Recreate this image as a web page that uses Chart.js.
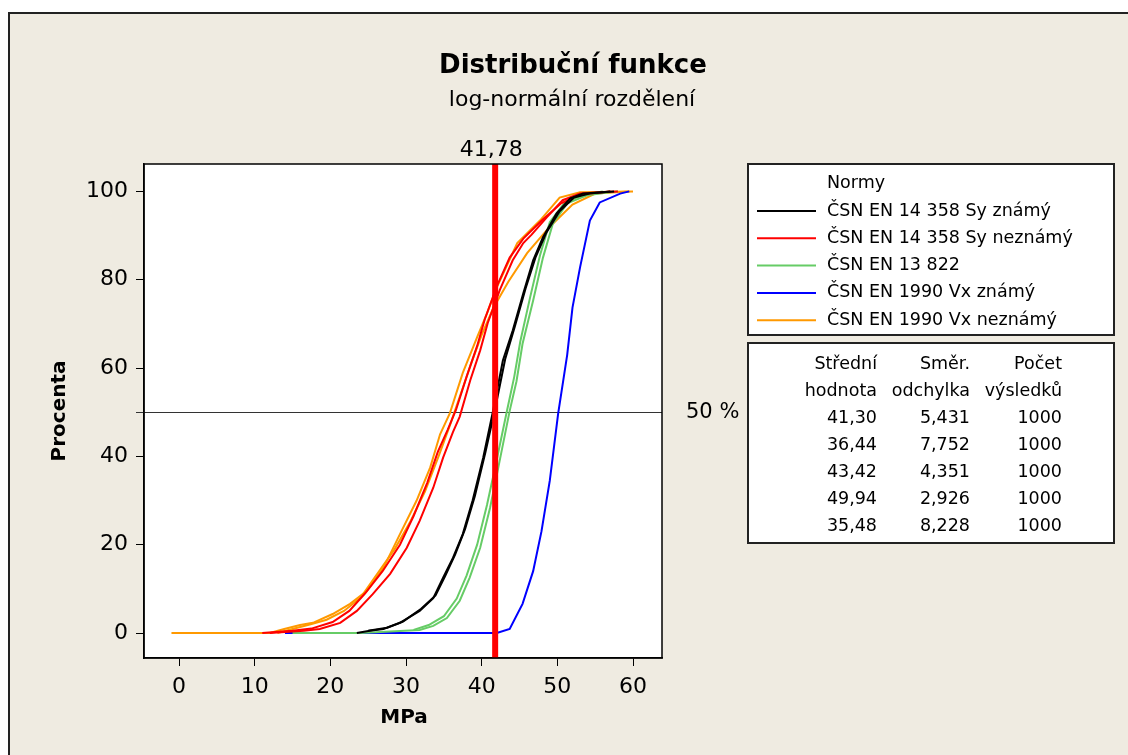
<!DOCTYPE html>
<html>
<head>
<meta charset="utf-8">
<script src="https://cdn.jsdelivr.net/npm/chart.js@4.4.0/dist/chart.umd.min.js"></script>
<style>
    html, body { margin: 0; padding: 0; background: #fff; }
    #wrap { width: 1128px; height: 755px; }
</style>
</head>
<body>
<div id="wrap"><canvas id="cdfChart" width="1128" height="755"></canvas></div>
<script>
// tick labels
const xTicks = [0, 10, 20, 30, 40, 50, 60];
const yTicks = [0, 20, 40, 60, 80, 100];

// series (legend order)
const seriesNames = [
    'ČSN EN 14 358 Sy známý',
    'ČSN EN 14 358 Sy neznámý',
    'ČSN EN 13 822',
    'ČSN EN 1990 Vx známý',
    'ČSN EN 1990 Vx neznámý'
];
const seriesColors = ['#000000', '#FF0000', '#66CC66', '#0000FF', '#FF9900'];

// stats table
const means = [41.30, 36.44, 43.42, 49.94, 35.48];
const stdDevs = [5.431, 7.752, 4.351, 2.926, 8.228];
const counts = [1000, 1000, 1000, 1000, 1000];

const refValue = 41.78;   // red vertical line
const refPercent = 50;    // horizontal line

const blackA = [[23.5,0],[25.2,0.5],[27,0.9],[29.2,2.3],[31.8,5],[33.6,7.9],[34.9,12.5],[36.2,17],[37.5,22.4],[38.8,30],[40.2,39.7],[41.5,50.3],[42.8,61.7],[44.1,68.5],[45.5,76.9],[46.8,84.4],[48.1,89.6],[49.9,95],[51.7,98.4],[53.4,99.5],[56,99.8],[57.5,100]];
const blackB = [[25,0.5],[27.5,1.2],[29.6,2.6],[32,5.5],[33.9,8.5],[35.2,13],[36.5,17.8],[37.8,23.5],[39.1,31],[40.5,41],[41.8,51],[43.1,62],[44.4,69.5],[45.8,78],[47.1,85],[48.5,90.5],[50.3,95.5],[52.2,98.6],[54.5,99.6],[57,100]];
const redA = [[12,0],[16.5,0.5],[18.6,0.9],[21.3,2.3],[23.5,5],[25.6,8.8],[27.9,13.4],[30.1,19.3],[31.8,25.4],[33.6,32.9],[34.9,39.7],[36.2,45.5],[37.1,49],[38.5,57.3],[39.8,64],[40.8,70.2],[42.4,77.7],[44.1,84.4],[45.5,88.3],[46.6,90.2],[48.6,94.1],[50.7,98],[53,99.5],[55.6,99.8],[58,100]];
const redB = [[11,0],[15,0.5],[17.5,1],[20.3,2.5],[22.5,5],[24.6,9],[26.9,14],[29.2,20],[31,26.5],[32.8,34],[34.2,41],[35.5,46],[36.6,50.5],[38,58],[39.4,65],[40.4,71],[42,78.5],[43.7,85],[45.5,89.3],[48,93.5],[50.5,97.3],[53,99.3],[57,100]];
const greenA = [[15,0],[24,0],[31.8,0.7],[33.6,1.6],[35.4,3.4],[37.1,7.3],[38.4,12.5],[39.8,19.3],[41.1,28.3],[42.2,37.5],[43.7,50.3],[44.6,57],[45.4,65.5],[46.8,75.3],[48.1,85],[49.4,92.7],[51.3,97.3],[53.9,99.1],[55.6,99.5],[58,100]];
const greenB = [[31,0.7],[33,1.8],[35,3.8],[36.7,7.8],[38,13],[39.4,20],[40.7,29],[41.9,38.5],[43.3,50],[44.3,58],[45.1,66],[46.4,76],[47.7,85.5],[49,93],[51,97.5],[53.5,99.2],[56,100]];
const blueA = [[14,0],[42,0],[43.7,0.9],[45.4,6.6],[46.8,14],[47.9,23],[49,34.5],[50.1,49.6],[51.3,63],[52,73.7],[53,82.8],[54.3,93.4],[55.6,97.5],[58.3,99.5],[59.5,100]];
const orangeA = [[-1,0],[12,0],[13.9,0.9],[16,1.8],[17.7,2.3],[20.3,4.3],[22.6,6.6],[24.8,9.5],[27,14.7],[29.2,22.4],[31.4,30],[33.2,37.5],[34.5,45],[35.8,49.8],[37.5,58.9],[39.4,67],[40.7,72.4],[42,78.3],[44.7,88.3],[47.7,93.4],[50.3,98.6],[53,99.8],[60,100]];
const orangeB = [[13,0],[15,0.9],[17.4,2],[19.5,3],[21.8,5],[24,8],[26.2,13.4],[28.5,19],[30.5,25],[32.5,32],[34.3,40],[35.8,47],[37.2,54],[38.6,61],[40,67.5],[41.5,73.5],[43.5,79.5],[46,86],[49,92],[52,97],[55,99.5],[59.5,100]];

const seriesRuns = [[blackA, blackB], [redA, redB], [greenA, greenB], [blueA], [orangeA, orangeB]];

const FONT = "'DejaVu Sans', Verdana, sans-serif";
Chart.defaults.font.family = FONT;
Chart.defaults.color = '#000';

function czNum(v, d){
    return v.toFixed(d).replace('.', ',');
}

var datasets = [];
seriesRuns.forEach(function(runs, i){
    runs.forEach(function(run){
        datasets.push({
            label: seriesNames[i],
            data: run.map(p => ({x: p[0], y: p[1]})),
            borderColor: seriesColors[i],
            borderWidth: 2,
            pointRadius: 0,
            showLine: true,
            tension: 0
        });
    });
});

const decorPlugin = {
    id: 'decor',
    beforeDraw(chart){
        const ctx = chart.ctx;
        const a = chart.chartArea;
        ctx.save();
        ctx.fillStyle = '#fff';
        ctx.fillRect(0, 0, chart.width, chart.height);
        ctx.fillStyle = '#EFEBE1';
        ctx.fillRect(8, 12, chart.width - 8, chart.height - 12);
        ctx.strokeStyle = '#222';
        ctx.lineWidth = 2;
        ctx.beginPath();
        ctx.moveTo(9, chart.height);
        ctx.lineTo(9, 13);
        ctx.lineTo(chart.width, 13);
        ctx.stroke();
        ctx.fillStyle = '#fff';
        ctx.fillRect(a.left, a.top, a.right - a.left, a.bottom - a.top);
        ctx.restore();
    },
    beforeDatasetsDraw(chart){
        const ctx = chart.ctx;
        const a = chart.chartArea;
        const py = Math.round(chart.scales.y.getPixelForValue(refPercent)) + 0.5;
        ctx.save();
        ctx.strokeStyle = '#333';
        ctx.lineWidth = 1;
        ctx.beginPath();
        ctx.moveTo(a.left - 8, py);
        ctx.lineTo(a.right, py);
        ctx.stroke();
        ctx.fillStyle = '#000';
        ctx.font = '21px ' + FONT;
        ctx.textAlign = 'left';
        ctx.textBaseline = 'middle';
        ctx.fillText(refPercent + ' %', a.right + 24, py);
        ctx.restore();
    },
    afterDatasetsDraw(chart){
        const ctx = chart.ctx;
        const a = chart.chartArea;
        const px = chart.scales.x.getPixelForValue(refValue);
        ctx.save();
        // red reference line
        ctx.strokeStyle = '#FF0000';
        ctx.lineWidth = 6;
        ctx.beginPath();
        ctx.moveTo(px, a.top);
        ctx.lineTo(px, a.bottom);
        ctx.stroke();
        ctx.fillStyle = '#000';
        ctx.font = '22px ' + FONT;
        ctx.textAlign = 'center';
        ctx.textBaseline = 'middle';
        ctx.fillText(czNum(refValue, 2), px - 4, a.top - 14);

        // plot frame
        ctx.strokeStyle = '#000';
        ctx.lineWidth = 1.5;
        ctx.strokeRect(a.left, a.top, a.right - a.left, a.bottom - a.top);

        // titles
        ctx.font = 'bold 26px ' + FONT;
        ctx.fillText('Distribuční funkce', 573, 66);
        ctx.font = '22px ' + FONT;
        ctx.fillText('log-normální rozdělení', 572, 100);

        // axis titles
        ctx.font = 'bold 20px ' + FONT;
        ctx.fillText('MPa', 404, 718);
        ctx.save();
        ctx.translate(60, 411);
        ctx.rotate(-Math.PI / 2);
        ctx.fillText('Procenta', 0, 0);
        ctx.restore();

        // legend box
        ctx.fillStyle = '#fff';
        ctx.fillRect(748, 164, 366, 171);
        ctx.fillRect(748, 343, 366, 200);
        ctx.lineWidth = 2;
        ctx.strokeStyle = '#222';
        ctx.strokeRect(748, 164, 366, 171);
        ctx.fillStyle = '#000';
        ctx.font = '17.5px ' + FONT;
        ctx.textAlign = 'left';
        ctx.fillText('Normy', 827, 183);
        seriesNames.forEach(function(name, i){
            const y = 211 + i * 27.3;
            ctx.strokeStyle = seriesColors[i];
            ctx.lineWidth = 2;
            ctx.beginPath();
            ctx.moveTo(757, y);
            ctx.lineTo(816, y);
            ctx.stroke();
            ctx.fillText(name, 827, y);
        });

        // stats table
        ctx.strokeStyle = '#222';
        ctx.lineWidth = 2;
        ctx.strokeRect(748, 343, 366, 200);
        ctx.textAlign = 'right';
        const cols = [877, 970, 1062];
        ctx.fillText('Střední', cols[0], 364);
        ctx.fillText('Směr.', cols[1], 364);
        ctx.fillText('Počet', cols[2], 364);
        ctx.fillText('hodnota', cols[0], 391);
        ctx.fillText('odchylka', cols[1], 391);
        ctx.fillText('výsledků', cols[2], 391);
        means.forEach(function(m, i){
            const y = 418 + i * 27.2;
            ctx.fillText(czNum(m, 2), cols[0], y);
            ctx.fillText(czNum(stdDevs[i], 3), cols[1], y);
            ctx.fillText(String(counts[i]), cols[2], y);
        });
        ctx.restore();
    }
};

var cdfChart = new Chart(
    document.getElementById('cdfChart'),
    {
        type: 'scatter',
        data: { datasets: datasets },
        options: {
            responsive: false,
            animation: false,
            layout: {
                padding: { left: 84, right: 466, top: 164, bottom: 37 }
            },
            plugins: {
                legend: { display: false },
                tooltip: { enabled: false }
            },
            scales: {
                x: {
                    type: 'linear',
                    min: -4.63,
                    max: 63.83,
                    afterBuildTicks: function(s){ s.ticks = xTicks.map(v => ({value: v})); },
                    afterFit: function(s){ s.height = 60; },
                    grid: { drawOnChartArea: false, drawTicks: true, tickLength: 8, color: '#000' },
                    border: { display: true, color: '#000', width: 1.5 },
                    ticks: { font: { size: 22 }, color: '#000', padding: 8, maxRotation: 0 }
                },
                y: {
                    type: 'linear',
                    min: -5.66,
                    max: 106.2,
                    afterBuildTicks: function(s){ s.ticks = yTicks.map(v => ({value: v})); },
                    afterFit: function(s){ s.width = 60; },
                    grid: { drawOnChartArea: false, drawTicks: true, tickLength: 8, color: '#000' },
                    border: { display: true, color: '#000', width: 1.5 },
                    ticks: { font: { size: 22 }, color: '#000', padding: 8 }
                }
            }
        },
        plugins: [decorPlugin]
    }
);
</script>
</body>
</html>
